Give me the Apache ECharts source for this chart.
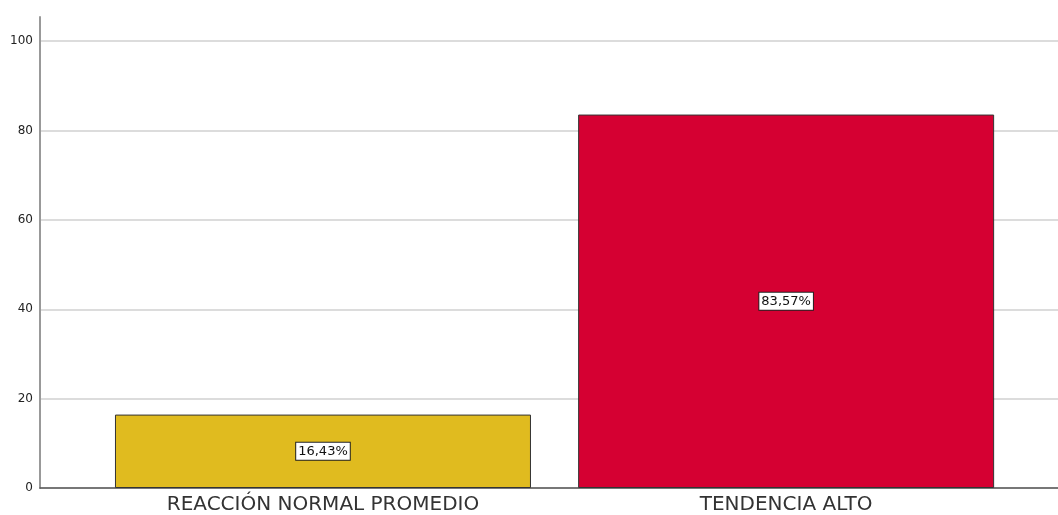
<!DOCTYPE html>
<html>
<head>
<meta charset="utf-8">
<script src="https://cdn.jsdelivr.net/npm/echarts@6/dist/echarts.min.js"></script>
<style>html,body{margin:0;padding:0;background:#fff}#c{width:1058px;height:515px}</style>
</head>
<body>
<div id="c"></div>
<script>
const categories = ['REACCIÓN NORMAL PROMEDIO', 'TENDENCIA ALTO'];
const values = [16.43, 83.57];
const barColors = ['#E0BB1F', '#D50032'];

const chart = echarts.init(document.getElementById('c'), null, {renderer: 'canvas'});
const fmt = v => v.toFixed(2).replace('.', ',') + '%';
const FONT = '"DejaVu Sans", Verdana, sans-serif';
chart.setOption({
  animation: false,
  backgroundColor: '#fff',
  grid: {left: 40, right: 0, top: 17, bottom: 27, containLabel: false},
  xAxis: {
    type: 'value',
    min: -0.611,
    max: 1.587,
    axisLine: {show: true, onZero: false, lineStyle: {color: '#555', width: 1.5}},
    axisTick: {show: false},
    splitLine: {show: false},
    axisLabel: {
      customValues: categories.map((c, i) => i),
      formatter: v => categories[Math.round(v)] || '',
      color: '#333',
      fontFamily: FONT,
      fontSize: 20,
      lineHeight: 20,
      margin: 7
    }
  },
  yAxis: {
    type: 'value',
    min: 0,
    max: 105.4,
    interval: 20,
    axisLine: {show: true, onZero: false, lineStyle: {color: '#999', width: 2}},
    axisTick: {show: false},
    axisLabel: {
      showMaxLabel: false,
      color: '#222',
      fontFamily: FONT,
      fontSize: 12,
      margin: 7
    },
    splitLine: {show: true, showMaxLine: false, lineStyle: {color: '#d0d0d0', width: 1.5}}
  },
  series: [{
    type: 'bar',
    barWidth: 416,
    data: values.map((v, i) => ({
      value: [i, v],
      itemStyle: {color: barColors[i], borderColor: '#333', borderWidth: 1}
    })),
    label: {
      show: true,
      position: 'inside',
      formatter: p => fmt(p.value[1]),
      color: '#111',
      fontFamily: FONT,
      fontSize: 13,
      lineHeight: 14,
      backgroundColor: '#fff',
      borderColor: '#222',
      borderWidth: 1,
      padding: [2, 2, 1, 2]
    }
  }]
});
</script>
</body>
</html>
